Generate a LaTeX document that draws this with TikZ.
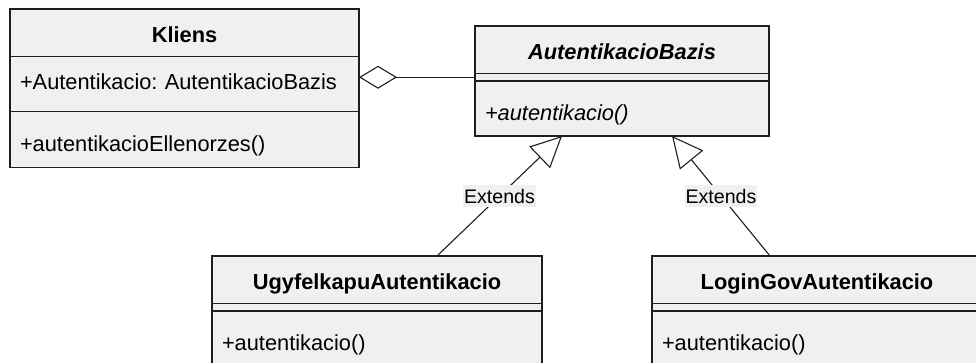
\documentclass[tikz,border=0pt]{standalone}
\usepackage{fontspec}
\setmainfont{Liberation Sans}
\usetikzlibrary{positioning,arrows.meta}
\definecolor{classfill}{RGB}{240,240,240}
\definecolor{classline}{RGB}{30,30,30}
\frenchspacing
\begin{document}
\begin{tikzpicture}[x=1pt, y=-1pt, node distance=0pt,
    box/.style={draw=classline, fill=classfill, line width=1.3pt, outer sep=0pt, inner xsep=10pt, inner ysep=0pt, text width=#1, font=\fontsize{21.8}{26}\selectfont},
    classhead/.style={box=#1, align=center, text height=33.5pt, text depth=14pt, font=\fontsize{21.8}{26}\selectfont\bfseries},
    attrbox/.style={box=#1, align=left, text height=33pt, text depth=22pt},
    sepbox/.style={box=#1, text height=7.5pt, text depth=0pt},
    opbox/.style={box=#1, align=left, text height=39.5pt, text depth=16pt},
    extlabel/.style={fill=classfill, inner xsep=1pt, inner ysep=4pt, font=\fontsize{19.6}{23}\selectfont},
    ext/.style={draw=classline, line width=1.1pt, -{Triangle[open, length=31pt, width=30pt, fill=white]}},
    aggr/.style={draw=classline, line width=1.1pt, -{Diamond[open, length=38pt, width=23pt, fill=white]}}
]
\useasboundingbox (0,0) rectangle (976,362);
\clip (0,0) rectangle (976,362);

% Kliens
\node[classhead=329pt, anchor=north] (kliens) at (184.5,9) {Kliens};
\node[attrbox=329pt, below=of kliens] (kliensattr) {+Autentikacio: AutentikacioBazis};
\node[opbox=329pt, text depth=16.5pt, below=of kliensattr] (kliensop) {+autentikacioEllenorzes()};

% AutentikacioBazis
\node[classhead=274pt, anchor=north, font=\fontsize{21.8}{26}\selectfont\bfseries\itshape] (bazis) at (622,26) {AutentikacioBazis};
\node[sepbox=274pt, below=of bazis] (bazissep) {};
\node[opbox=274pt, text depth=15.5pt, below=of bazissep, font=\fontsize{21.8}{26}\selectfont\itshape] (bazisop) {+autentikacio()};

% UgyfelkapuAutentikacio
\node[classhead=310pt, anchor=north] (ugy) at (377,256) {UgyfelkapuAutentikacio};
\node[sepbox=310pt, below=of ugy] (ugysep) {};
\node[opbox=310pt, below=of ugysep] (ugyop) {+autentikacio()};

% LoginGovAutentikacio
\node[classhead=310pt, anchor=north] (login) at (817,256) {LoginGovAutentikacio};
\node[sepbox=310pt, below=of login] (loginsep) {};
\node[opbox=310pt, below=of loginsep] (loginop) {+autentikacio()};

% kapcsolatok
\draw[aggr] (bazissep.west) -- (bazissep.west -| kliensattr.east);
\draw[ext] ([xshift=60pt]ugy.north) -- node[extlabel] {Extends} ([xshift=-60pt]bazisop.south);
\draw[ext] ([xshift=-47pt]login.north) -- node[extlabel] {Extends} ([xshift=50pt]bazisop.south);
\end{tikzpicture}
\end{document}
